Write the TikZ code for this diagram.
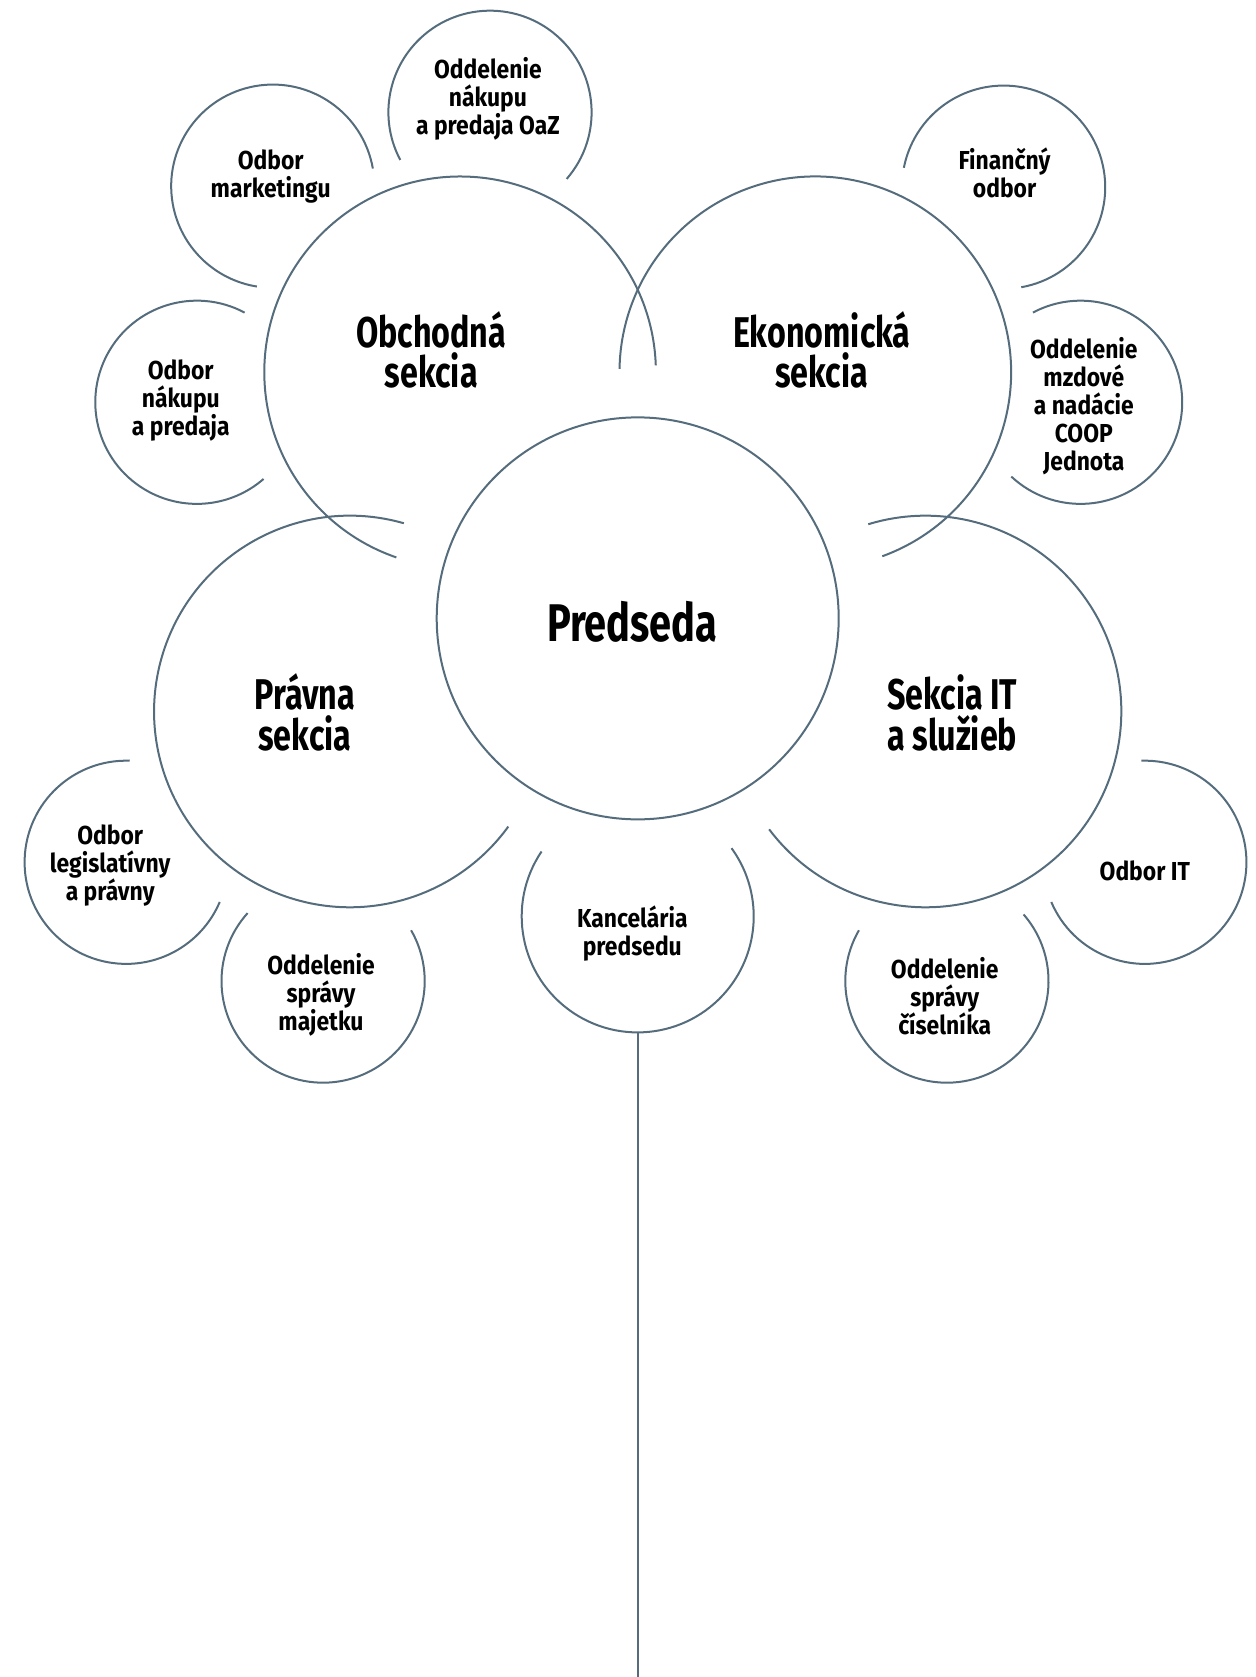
\documentclass[tikz,border=0pt]{standalone}
\usepackage{fontspec}
\setmainfont[FakeStretch=0.75]{Fira Sans}
\newfontfamily\uzsie[FakeStretch=0.88]{Fira Sans}
\definecolor{sivomodra}{RGB}{84,108,124}
\tikzset{
  kruh/.style = {circle, inner sep=0pt, outer sep=0pt},
  kruh_p/.style = {kruh, minimum size=402pt},% predseda
  kruh_v/.style = {kruh, minimum size=391.6pt},% sekcia
  kruh_k/.style = {kruh, minimum size=232pt},% kancelaria
  kruh_m/.style = {kruh, minimum size=203.2pt},% odbor, oddelenie
  ciara/.style = {draw=sivomodra, line width=2pt},
  popis/.style = {align=center, inner sep=0pt, font=\bfseries},
  popis_p/.style = {popis, font=\bfseries\fontsize{53}{56}\selectfont},
  popis_v/.style = {popis, font=\bfseries\fontsize{43}{40.7}\selectfont},
  popis_m/.style = {popis, font=\uzsie\bfseries\fontsize{26}{28}\selectfont}
}
% oblúk kruhu: uzol, od uhla, po uhol, polomer
\newcommand{\obluk}[4]{\draw[ciara] (#1.#2) arc[start angle=#2, end angle=#3, radius=#4];}

\begin{document}
\begin{tikzpicture}[x=1pt,y=1pt]
\useasboundingbox (0,0) rectangle (1255,1677);

% stred
\node[kruh_p, ciara] (pred) at (637.7,1058.6) {};
\node[popis_p] at (632.3,1055.4) {Predseda};

% sekcie
\node[kruh_v] (obch) at (460.1,1304.7) {};
\node[kruh_v] (ekon) at (815.3,1304.7) {};
\node[kruh_v] (prav) at (349.9,965.5) {};
\node[kruh_v] (sekit) at (925.5,965.5) {};
\node[kruh_k] (kanc) at (637.7,760.6) {};

% odbory a oddelenia
\node[kruh_m] (mark) at (272.8,1490.8) {};
\node[kruh_m] (oaz) at (490.0,1564.7) {};
\node[kruh_m] (nakp) at (196.9,1274.7) {};
\node[kruh_m] (fin) at (1003.6,1489.8) {};
\node[kruh_m] (mzd) at (1080.6,1274.7) {};
\node[kruh_m] (leg) at (126.2,814.7) {};
\node[kruh_m] (maj) at (323.1,695.9) {};
\node[kruh_m] (cis) at (946.9,695.9) {};
\node[kruh_m] (oit) at (1144.8,814.7) {};

\obluk{obch}{2}{251}{195.8pt}
\obluk{ekon}{290}{539}{195.8pt}
\obluk{prav}{74}{324}{195.8pt}
\obluk{sekit}{217}{467}{195.8pt}
\obluk{kanc}{146}{396}{116pt}
\obluk{mark}{10}{261}{101.6pt}
\obluk{oaz}{319}{568}{101.6pt}
\obluk{nakp}{62}{311}{101.6pt}
\obluk{fin}{280}{529}{101.6pt}
\obluk{mzd}{227}{478}{101.6pt}
\obluk{leg}{88}{337}{101.6pt}
\obluk{maj}{138}{390}{101.6pt}
\obluk{cis}{150}{401}{101.6pt}
\obluk{oit}{203}{452}{101.6pt}

% stonka
\coordinate (koren) at (637.7,0);
\draw[ciara] (kanc.south) -- (koren);

% popisy
\node[popis_v] at (431.2,1327.1) {Obchodná\\sekcia};
\node[popis_v] at (821.7,1327.1) {Ekonomická\\sekcia};
\node[popis_v] at (304.9,964.4) {Právna\\sekcia};
\node[popis_v] at (952.2,964.4) {Sekcia IT\\a služieb};
\node[popis_m] at (632.3,743) {Kancelária\\predsedu};
\node[popis_m] at (270.7,1500.5) {Odbor\\marketingu};
\node[popis_m] at (487.9,1578.6) {Oddelenie\\nákupu\\a predaja OaZ};
\node[popis_m] at (180.8,1276.9) {Odbor\\nákupu\\a predaja};
\node[popis_m] at (1004.6,1503.7) {Finančný\\odbor};
\node[popis_m] at (1083.8,1270.4) {Oddelenie\\mzdové\\a nadácie\\COOP\\Jednota};
\node[popis_m] at (110.2,811.4) {Odbor\\legislatívny\\a právny};
\node[popis_m] at (321.0,682) {Oddelenie\\správy\\majetku};
\node[popis_m] at (944.7,680.9) {Oddelenie\\správy\\číselníka};
\node[popis_m] at (1144.8,806.1) {Odbor IT};
\end{tikzpicture}
\end{document}
